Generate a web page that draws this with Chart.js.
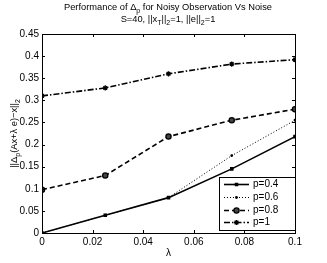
<!DOCTYPE html>
<html>
<head>
<meta charset="utf-8">
<script src="https://cdn.jsdelivr.net/npm/chart.js@4"></script>
<style>
  html, body { margin: 0; padding: 0; background: #fff; }
  canvas { display: block; }
</style>
</head>
<body>
<canvas id="grafico" width="327" height="263"></canvas>
<script>
// dados
const lambdas = [0, 0.025, 0.05, 0.075, 0.1];
const p04 = [0, 0.04, 0.08, 0.145, 0.218];
const p06 = [0, 0.04, 0.08, 0.175, 0.255];
const p08 = [0.098, 0.13, 0.218, 0.255, 0.28];
const p1 = [0.31, 0.328, 0.36, 0.382, 0.392];
const xTicks = [0, 0.02, 0.04, 0.06, 0.08, 0.1];
const yTicks = [0, 0.05, 0.1, 0.15, 0.2, 0.25, 0.3, 0.35, 0.4, 0.45];
const labels = ["p=0.4", "p=0.6", "p=0.8", "p=1"];

const FONT = "Liberation Sans, Arial, Helvetica, sans-serif";

function pts(vals) {
  return lambdas.map((x, i) => ({ x: x, y: vals[i] }));
}

const series = [
  { data: p04, dash: [], width: 1.6, point: "rect", radius: 1.6, fill: "#000" },
  { data: p06, dash: [1, 2], width: 1, point: "circle", radius: 0.8, fill: "#000" },
  { data: p08, dash: [5, 3], width: 1.6, point: "circle", radius: 2.6, fill: "#444" },
  { data: p1, dash: [6, 2, 1.5, 2], width: 1.6, point: "star", radius: 2.6, fill: "#000" },
];

// desenha títulos, moldura, marcas internas e legenda
const molduraPlugin = {
  id: "moldura",
  afterDraw(chart) {
    const ctx = chart.ctx;
    const a = chart.chartArea;
    const xs = chart.scales.x, ys = chart.scales.y;
    ctx.save();
    ctx.strokeStyle = "#000";
    ctx.lineWidth = 1;
    ctx.setLineDash([]);
    ctx.strokeRect(Math.round(a.left) + 0.5, Math.round(a.top) + 0.5, Math.round(a.right - a.left), Math.round(a.bottom - a.top));
    ctx.beginPath();
    xTicks.forEach(t => {
      const x = Math.round(xs.getPixelForValue(t)) + 0.5;
      ctx.moveTo(x, a.bottom); ctx.lineTo(x, a.bottom - 3);
      ctx.moveTo(x, a.top); ctx.lineTo(x, a.top + 3);
    });
    yTicks.forEach(t => {
      const y = Math.round(ys.getPixelForValue(t)) + 0.5;
      ctx.moveTo(a.left, y); ctx.lineTo(a.left + 3, y);
      ctx.moveTo(a.right, y); ctx.lineTo(a.right - 3, y);
    });
    ctx.stroke();

    // títulos
    ctx.fillStyle = "#000";
    drawRich(ctx, [["Performance of \u0394", 0], ["p", 1], [" for Noisy Observation Vs Noise", 0]], 168, 10, 9.3);
    drawRich(ctx, [["S=40, ||x", 0], ["T", 1], ["||", 0], ["2", 1], ["=1, ||e||", 0], ["2", 1], ["=1", 0]], 168, 22, 9.3);

    // eixo x
    ctx.font = "10px " + FONT;
    ctx.textAlign = "center";
    ctx.textBaseline = "alphabetic";
    ctx.fillText("\u03bb", (a.left + a.right) / 2, 256);

    // eixo y (rotacionado)
    ctx.save();
    ctx.translate(17, (a.top + a.bottom) / 2);
    ctx.rotate(-Math.PI / 2);
    drawRich(ctx, [["||\u0394", 0], ["p", 1], ["(Ax+\u03bb e)\u2212x||", 0], ["2", 1]], 0, 0, 9.3);
    ctx.restore();

    // legenda
    const lx = 219, ly = 177, lw = 76, lh = 53;
    ctx.fillStyle = "#fff";
    ctx.fillRect(lx, ly, lw, lh);
    ctx.strokeStyle = "#000";
    ctx.lineWidth = 1;
    ctx.strokeRect(lx + 0.5, ly + 0.5, lw, lh);
    const rows = [184, 197, 210, 222];
    chart.data.datasets.forEach((ds, i) => {
      const y = rows[i] + 0.5;
      ctx.strokeStyle = "#000";
      ctx.lineWidth = ds.borderWidth;
      ctx.setLineDash(ds.borderDash);
      ctx.beginPath();
      ctx.moveTo(224, y); ctx.lineTo(249, y);
      ctx.stroke();
      ctx.setLineDash([]);
      ctx.fillStyle = ds.pointBackgroundColor;
      ctx.lineWidth = ds.pointBorderWidth;
      Chart.helpers.drawPoint(ctx, {
        pointStyle: ds.pointStyle, radius: ds.pointRadius, borderWidth: ds.pointBorderWidth, rotation: 0
      }, 236.5, y);
      ctx.fillStyle = "#000";
      ctx.font = "10px " + FONT;
      ctx.textAlign = "left";
      ctx.textBaseline = "middle";
      ctx.fillText(labels[i], 253, y);
    });
    ctx.restore();
  }
};

// texto com subscritos, centralizado em cx
function drawRich(ctx, parts, cx, cy, size) {
  const big = size + "px " + FONT, small = Math.round(size * 0.7) + "px " + FONT;
  let total = 0;
  parts.forEach(p => { ctx.font = p[1] ? small : big; total += ctx.measureText(p[0]).width; });
  let x = cx - total / 2;
  ctx.textAlign = "left";
  ctx.textBaseline = "alphabetic";
  parts.forEach(p => {
    ctx.font = p[1] ? small : big;
    ctx.fillText(p[0], x, cy + (p[1] ? 3 : 0));
    x += ctx.measureText(p[0]).width;
  });
}

new Chart(document.getElementById("grafico"), {
  type: "scatter",
  data: {
    datasets: series.map((s, i) => ({
      label: labels[i],
      data: pts(s.data),
      showLine: true,
      borderColor: "#000",
      borderWidth: s.width,
      borderDash: s.dash,
      pointStyle: s.point,
      pointRadius: s.radius,
      pointBorderWidth: 1.3,
      pointBorderColor: "#000",
      pointBackgroundColor: s.fill,
      tension: 0,
    })),
  },
  options: {
    responsive: false,
    animation: false,
    devicePixelRatio: 1,
    layout: { padding: { top: 34, right: 32, left: 0, bottom: 0 } },
    plugins: { legend: { display: false }, title: { display: false }, tooltip: { enabled: false } },
    scales: {
      x: {
        type: "linear",
        min: 0, max: 0.1,
        afterFit: s => { s.height = 30; },
        afterBuildTicks: s => { s.ticks = xTicks.map(v => ({ value: v })); },
        grid: { display: false, drawTicks: false },
        border: { display: false },
        ticks: {
          color: "#000", padding: 3, autoSkip: false,
          font: { family: FONT, size: 10 },
          callback: v => String(v),
          maxRotation: 0,
        },
      },
      y: {
        min: 0, max: 0.45,
        afterFit: s => { s.width = 42; },
        afterBuildTicks: s => { s.ticks = yTicks.map(v => ({ value: v })); },
        grid: { display: false, drawTicks: false },
        border: { display: false },
        ticks: {
          color: "#000", padding: 3, autoSkip: false,
          font: { family: FONT, size: 10 },
          callback: v => String(Math.round(v * 100) / 100),
        },
      },
    },
  },
  plugins: [molduraPlugin],
});
</script>
</body>
</html>
